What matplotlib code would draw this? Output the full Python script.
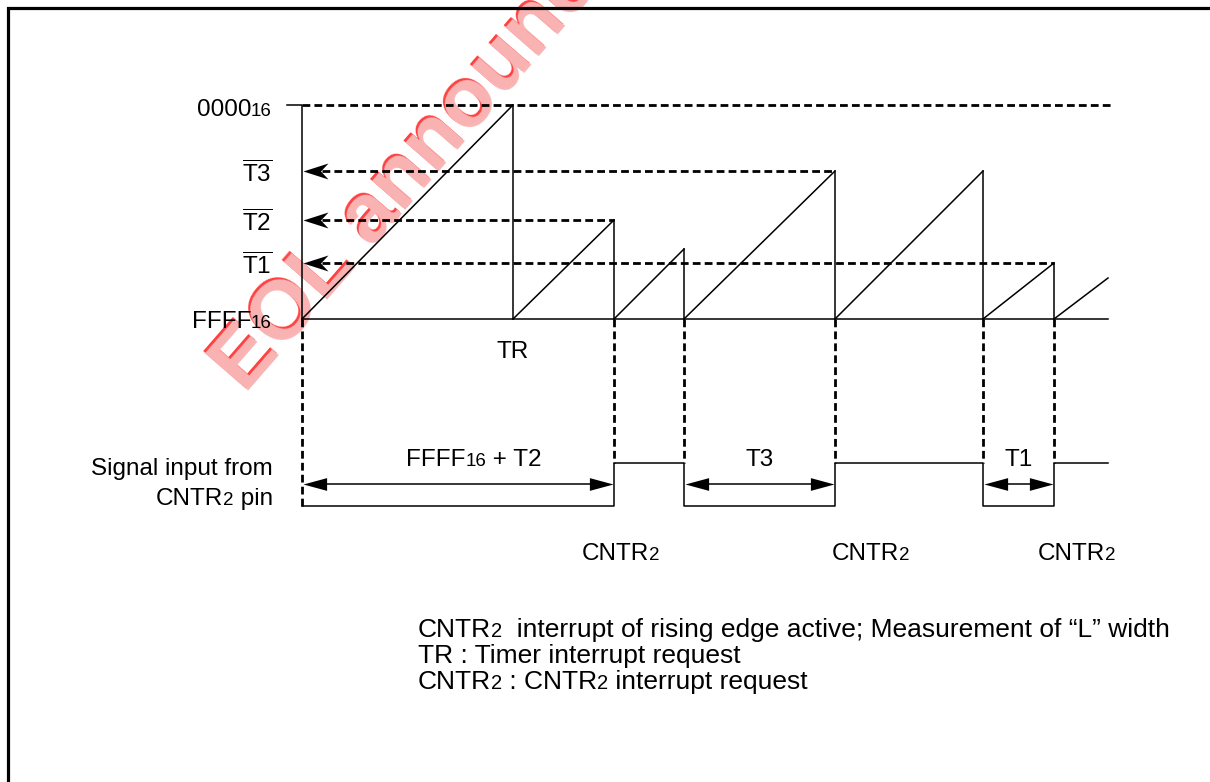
import matplotlib
matplotlib.use("Agg")
import matplotlib.pyplot as plt
from matplotlib.path import Path
from matplotlib.markers import MarkerStyle

plt.rcParams['font.family'] = ['Liberation Sans', 'DejaVu Sans']
plt.rcParams['mathtext.fontset'] = 'custom'
plt.rcParams['mathtext.rm'] = 'Liberation Sans'

# counter levels (drawing rows, top = 0000, base = FFFF)
y_top = 105
y_t3 = 171
y_t2 = 220
y_t1 = 263
y_base = 319

# counter: start, reload times, end of drawing
t_start = 302
resets = [513, 614, 684, 835, 983, 1054]
t_end = 1108
ramp_peaks = [105, 220, 249, 171, 171, 263, 278]

# dashed reference levels and where they start
ref_levels = [y_t3, y_t2, y_t1]
ref_ends = [835, 614, 1054]
ref_labels = ['T3', 'T2', 'T1']
top_dash_end = 1112

# CNTR2 input signal
sig_low = 506
sig_high = 463
sig_edges = resets[1:]
sig_arrow_y = 484
widths = [(t_start, 614), (684, 835), (983, 1054)]
width_labels = [[('FFFF', 17.5), ('16', 13.5), (' + T2', 17.5)], [('T3', 17.5)], [('T1', 17.5)]]
cntr_label_x = [621, 871, 1077]

notes = [
    [('CNTR', 19), ('2', 14.5), ('  interrupt of rising edge active; Measurement of \u201cL\u201d width', 19)],
    [('TR : Timer interrupt request', 19)],
    [('CNTR', 19), ('2', 14.5), (' : CNTR', 19), ('2', 14.5), (' interrupt request', 19)],
]

fig = plt.figure(figsize=(12.1, 7.82), dpi=100)
ax = fig.add_axes([0, 0, 1, 1])
ax.set_xlim(0, 1210)
ax.set_ylim(782, 0)
ax.axis('off')
renderer = fig.canvas.get_renderer()


def rich(x, y, parts, ha='left'):
    texts = [ax.text(x, y, s, fontsize=fs, ha='left', va='baseline') for s, fs in parts]
    ws = [t.get_window_extent(renderer).width for t in texts]
    off = {'left': 0, 'center': -sum(ws) / 2, 'right': -sum(ws)}[ha]
    for t, w in zip(texts, ws):
        t.set_x(x + off)
        off += w


def head(style, right):
    if style == 'stealth':
        v = [(0, 0), (1, 0.32), (0.7, 0), (1, -0.32), (0, 0)]
    else:
        v = [(0, 0), (1, 0.27), (1, -0.27), (0, 0)]
    if right:
        v = [(-a, b) for a, b in v]
    return MarkerStyle(Path(v, closed=True))


lw_solid = 1.1
lw_dash = 2.0
dash = (2.8, 1.5)

# frame
ax.plot([7.5, 7.5, 1210], [782, 7.5, 7.5], color='k', lw=2.3, solid_joinstyle='miter')

# watermark
ax.text(243, 392, 'EOL announced', fontsize=60, fontweight='bold', color='#ff4040',
        rotation=49, rotation_mode='anchor', ha='left', va='baseline', zorder=0)
ax.text(245, 394, 'EOL announced', fontsize=60, fontweight='bold', color='#f9b4b4',
        rotation=49, rotation_mode='anchor', ha='left', va='baseline', zorder=0)

# axis of the counter
ax.plot([287, t_start, t_start], [y_top, y_top, y_base], color='k', lw=lw_solid)
ax.plot([t_start, t_end], [y_base, y_base], color='k', lw=lw_solid)

# sawtooth
starts = [t_start] + resets
ends = resets + [t_end]
for s, e, p in zip(starts, ends, ramp_peaks):
    ax.plot([s, e], [y_base, p], color='k', lw=lw_solid)
for e, p in zip(resets, ramp_peaks):
    ax.plot([e, e], [p, y_base], color='k', lw=lw_solid)

# dashed levels
ax.plot([t_start, top_dash_end], [y_top, y_top], color='k', lw=lw_dash, dashes=dash)
for lv, e in zip(ref_levels, ref_ends):
    ax.plot([t_start + 20, e], [lv, lv], color='k', lw=lw_dash, dashes=dash)
    ax.plot([t_start + 1], [lv], ls='none', marker=head('stealth', False), ms=36,
            mfc='k', mec='k', mew=0)

# dashed verticals down to the input signal
ax.plot([t_start, t_start], [y_base, sig_low], color='k', lw=lw_dash, dashes=dash)
for e in sig_edges:
    ax.plot([e, e], [y_base, sig_high], color='k', lw=lw_dash, dashes=dash)

# input signal
sx = [t_start]
sy = [sig_low]
lvl = sig_low
for e in sig_edges:
    sx += [e, e]
    nxt = sig_high if lvl == sig_low else sig_low
    sy += [lvl, nxt]
    lvl = nxt
sx.append(t_end)
sy.append(lvl)
ax.plot(sx, sy, color='k', lw=lw_solid)

# width arrows
for (a, b), lab in zip(widths, width_labels):
    ax.plot([a + 10, b - 10], [sig_arrow_y, sig_arrow_y], color='k', lw=lw_solid)
    ax.plot([a + 1], [sig_arrow_y], ls='none', marker=head('tri', False), ms=34, mfc='k', mew=0)
    ax.plot([b - 1], [sig_arrow_y], ls='none', marker=head('tri', True), ms=34, mfc='k', mew=0)
    rich((a + b) / 2 + (16 if len(lab) > 1 else 0), 466, lab, ha='center')

# level labels
rich(272, y_top + 11, [('0000', 17.5), ('16', 13.5)], ha='right')
for lv, lab in zip(ref_levels, ref_labels):
    ax.text(272, lv + 11, r'$\overline{\mathrm{%s}}$' % lab, fontsize=17.5, ha='right', va='baseline')
rich(272, y_base + 9, [('FFFF', 17.5), ('16', 13.5)], ha='right')

ax.text(resets[0], 358, 'TR', fontsize=17.5, ha='center', va='baseline')

rich(273, 475, [('Signal input from', 17.5)], ha='right')
rich(273, 505, [('CNTR', 17.5), ('2', 13.5), (' pin', 17.5)], ha='right')

for cx in cntr_label_x:
    rich(cx, 560, [('CNTR', 17.5), ('2', 13.5)], ha='center')

for i, parts in enumerate(notes):
    rich(418, 637 + 26 * i, parts)

fig.savefig('out.png', dpi=100)
